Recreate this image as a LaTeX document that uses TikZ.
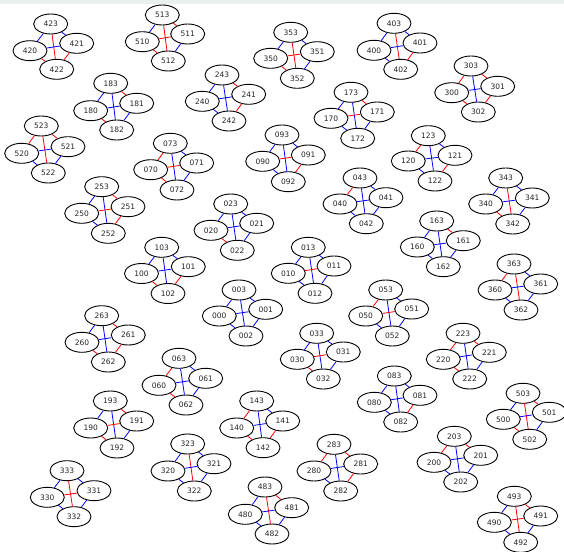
\documentclass[tikz,border=0pt]{standalone}
\usepackage{fontspec}
\setmainfont{DejaVu Sans}
\definecolor{topband}{RGB}{232,240,240}
\definecolor{ered}{RGB}{255,0,0}
\definecolor{eblue}{RGB}{0,0,255}
\usetikzlibrary{shapes.geometric}
\tikzset{
  vx/.style={ellipse, draw=black, line width=0.9pt, fill=white, minimum width=34pt, minimum height=20pt, inner sep=0pt, font=\fontsize{7.5}{9}\selectfont, text=black!85},
  eR/.style={draw=ered, line width=0.8pt},
  eB/.style={draw=eblue, line width=0.8pt}
}
\begin{document}
\begin{tikzpicture}[x=1pt,y=-1pt]
\useasboundingbox (0,0) rectangle (564,551);
\fill[topband] (0,0) rectangle (564,4);
\foreach \p/\ax/\ay/\bx/\by/\cx/\cy/\dx/\dy/\ea/\eb/\ec/\ed/\ee/\ef in {%
42/50.7/24/30/50.7/76.7/43.3/56.7/69.3/eB/eB/eR/eB/eR/eR,%
51/162.3/15/142.3/41.7/187.7/34/168.3/61/eB/eR/eR/eR/eR/eB,%
35/290.7/32.3/270.7/58.3/317.3/51.7/297.3/78.3/eB/eB/eR/eR/eR/eB,%
40/394/23.3/374/50.3/420/43/400.7/69.3/eB/eB/eR/eB/eB/eR,%
30/471/66/451.7/92.7/497.7/86.3/478.3/112/eR/eR/eB/eB/eR/eR,%
18/110.7/83.3/90.7/110.7/136.7/103.3/116.7/130/eB/eR/eB/eB/eR/eB,%
24/222/75/202.3/101.3/248.7/94.3/229/121/eB/eR/eB/eB/eB/eR,%
17/351/92.3/331/118.3/377.3/112/357.7/138.3/eB/eR/eB/eR/eB/eB,%
52/41.3/126/21.7/153.3/68/146.7/48.3/173/eR/eR/eR/eB/eB/eB,%
07/170.3/143.3/150.7/169.7/196.7/163/177/190/eR/eB/eB/eR/eR/eB,%
09/282/135/262.7/161.3/308.3/155/288.3/181.7/eB/eB/eB/eR/eB/eR,%
12/428.3/135.7/408.3/161/455/155.3/435/181/eR/eB/eB/eB/eB/eR,%
34/505.7/178/485.7/204/532.3/198/512.7/224/eB/eB/eR/eB/eR/eB,%
04/360/178/340/204/386/197.7/366.3/223.7/eR/eB/eB/eB/eB/eB,%
25/101.7/186.7/81.7/213.3/128/206.7/108.3/233.3/eB/eR/eB/eR/eB/eR,%
02/230.7/204/211/230.3/256.7/223.3/237.3/250.3/eB/eB/eB/eB/eR/eB,%
16/436.7/221/417.3/247/463.3/240.7/443.3/266.7/eB/eR/eB/eB/eB/eB,%
10/161.7/247.3/141.5/273.5/188.3/266.7/168/293.5/eB/eB/eB/eB/eR/eR,%
01/308.3/247.3/288.3/273.3/334/266/315/293.3/eB/eB/eB/eR/eB/eB,%
36/514/264/495/290/540.7/284/521/310/eR/eB/eR/eB/eB/eB,%
26/101.7/315.7/82/342.3/128.3/335/108.3/362/eB/eR/eB/eB/eR/eR,%
00/239/290/219.3/316/265.7/309.3/246/336/eB/eB/eB/eB/eB/eB,%
05/385.7/290/365.7/316/411.7/309/392.3/336/eR/eB/eB/eR/eB/eB,%
22/463/333.3/443.3/359.3/489.3/352.3/469.7/379/eR/eR/eB/eB/eR/eB,%
06/179/358.3/159/385.3/205.7/378.3/186/405/eR/eB/eB/eB/eR/eB,%
03/316.7/333.3/297.3/359.3/343.3/352/323.3/379/eB/eB/eB/eR/eR/eB,%
19/110.3/401/90.7/428/136.7/421/117/448/eB/eR/eB/eR/eR/eB,%
08/394.3/376/374.3/402.3/420/395.3/400.7/422/eB/eB/eB/eB/eB/eR,%
50/523/393.3/503.3/419.3/549.3/412.3/529.7/439.3/eB/eR/eR/eB/eR/eB,%
14/256.7/401/236.7/428/282.7/421/263/447.7/eR/eB/eB/eB/eR/eR,%
32/187.7/444/168/471/214/463.7/194.3/491/eB/eB/eR/eB/eB/eB,%
28/334/444.3/314/471/360.7/464/340.7/491/eR/eR/eB/eB/eB/eR,%
20/454.3/436.3/434/462.3/480.7/455.3/460.7/482/eR/eR/eB/eB/eB/eB,%
33/67/470.7/47.3/497.3/94/490.7/74/516.7/eB/eB/eR/eR/eB/eB,%
48/265/487/245.3/514.3/291.7/507.7/272/534/eB/eR/eR/eB/eB/eB,%
49/514.3/496.3/494.3/522.3/540.7/516/520.7/542.3/eB/eR/eR/eR/eB/eB}{
  \node[vx] (n\p3) at (\ax,\ay) {\p3};
  \node[vx] (n\p0) at (\bx,\by) {\p0};
  \node[vx] (n\p1) at (\cx,\cy) {\p1};
  \node[vx] (n\p2) at (\dx,\dy) {\p2};
  \draw[\ea] (n\p3) -- (n\p0);
  \draw[\eb] (n\p3) -- (n\p1);
  \draw[\ec] (n\p3) -- (n\p2);
  \draw[\ed] (n\p0) -- (n\p1);
  \draw[\ee] (n\p0) -- (n\p2);
  \draw[\ef] (n\p1) -- (n\p2);
}
\end{tikzpicture}
\end{document}
